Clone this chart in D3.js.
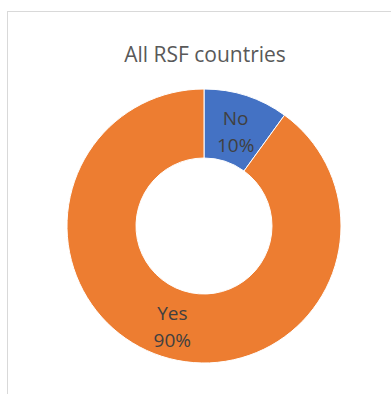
<!DOCTYPE html>
<html>
<head>
<meta charset="utf-8">
<script src="https://cdn.jsdelivr.net/npm/d3@7"></script>
<style>
  html, body { margin: 0; padding: 0; background: #fff; }
  svg { display: block; }
</style>
</head>
<body>
<script>
const categories = ["No", "Yes"];
const values = [10, 90];
const valueLabels = ["10%", "90%"];
const colors = ["#4472C4", "#ED7D31"];
const title = "All RSF countries";

const W = 391, H = 394;
const svg = d3.select("body").append("svg").attr("width", W).attr("height", H);

// chart area frame
svg.append("rect")
  .attr("x", 7.5).attr("y", 11.5)
  .attr("width", 400).attr("height", 400)
  .attr("fill", "#fff").attr("stroke", "#d9d9d9").attr("stroke-width", 1);

svg.append("text")
  .attr("x", 205).attr("y", 62)
  .attr("text-anchor", "middle")
  .attr("font-family", "'Open Sans', 'Liberation Sans', sans-serif")
  .attr("font-size", 21)
  .attr("fill", "#595959")
  .text(title);

const cx = 204, cy = 226, rOuter = 137, rInner = 68;
const g = svg.append("g").attr("transform", `translate(${cx},${cy})`);

const pie = d3.pie().sort(null).value(d => d.value);
const arc = d3.arc().innerRadius(rInner).outerRadius(rOuter);
const data = categories.map((c, i) => ({ cat: c, value: values[i], label: valueLabels[i], color: colors[i] }));
const arcs = pie(data);

g.selectAll("path").data(arcs).join("path")
  .attr("d", arc)
  .attr("fill", d => d.data.color)
  .attr("stroke", "#fff")
  .attr("stroke-width", 1);

const labelArc = d3.arc().innerRadius((rInner + rOuter) / 2).outerRadius((rInner + rOuter) / 2);
const lbl = g.selectAll("text.lbl").data(arcs).join("text")
  .attr("class", "lbl")
  .attr("text-anchor", "middle")
  .attr("font-family", "'Open Sans', 'Liberation Sans', sans-serif")
  .attr("font-size", 19)
  .attr("fill", "#404040")
  .attr("transform", d => {
    const [x, y] = labelArc.centroid(d);
    return `translate(${x},${y})`;
  });
lbl.append("tspan").attr("x", 0).attr("dy", "-0.2em").text(d => d.data.cat);
lbl.append("tspan").attr("x", 0).attr("dy", "1.45em").text(d => d.data.label);
</script>
</body>
</html>
